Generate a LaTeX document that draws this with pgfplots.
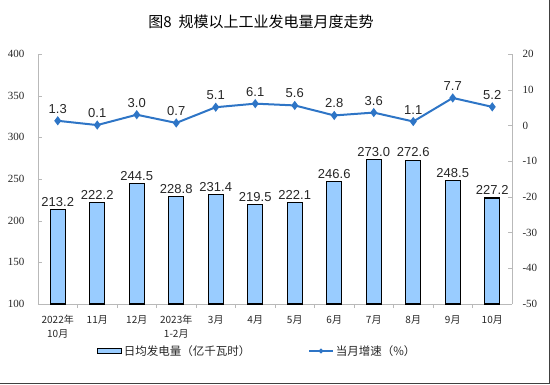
\documentclass[border=0pt]{standalone}
\usepackage{pgfplots}
\pgfplotsset{compat=1.18}
\usepackage{fontspec}
\setmainfont{Liberation Sans}
\newfontfamily\cjk{Noto Sans CJK SC}
\newfontfamily\serif{Liberation Serif}
\definecolor{barblue}{RGB}{153,204,255}
\definecolor{lineblue}{RGB}{46,117,198}
\definecolor{axgray}{RGB}{185,185,185}
\pgfplotsset{/pgf/number format/assume math mode=true}
\begin{document}
\begin{tikzpicture}[x=1pt,y=1pt]
\path[use as bounding box] (0,0) rectangle (550,384);
\draw[line width=1.2pt, black!75] (0,0.6)--(549.4,0.6)--(549.4,384);
\node[font=\cjk\fontsize{15}{18}\selectfont] at (261,362) {图8\ \ 规模以上工业发电量月度走势};

\begin{axis}[
  at={(38pt,80pt)}, anchor=south west, scale only axis,
  width=474pt, height=250pt,
  xmin=-0.5, xmax=11.5, ymin=100, ymax=400,
  ytick={100,150,...,400},
  axis x line*=bottom, axis y line*=left,
  axis line style={axgray,-},
  tick align=inside, major tick length=4pt, minor tick length=4pt,
  tick style={axgray},
  xtick={0,...,11},
  minor x tick num=1,
  major x tick style={draw=none},
  xticklabels={{2022年\\10月},11月,12月,{2023年\\1-2月},3月,4月,5月,6月,7月,8月,9月,10月},
  xticklabel style={align=center, font=\cjk\fontsize{10}{14}\selectfont, text=black!85, yshift=-4pt},
  yticklabel style={font=\serif\fontsize{11}{13}\selectfont, text=black!85, xshift=-10pt},
  ybar, bar width=15pt,
  nodes near coords={\pgfmathprintnumber[fixed,fixed zerofill,precision=1]{\pgfplotspointmeta}},
  every node near coord/.append style={font=\fontsize{13}{15}\selectfont, text=black!85, inner sep=2.5pt},
]
\addplot[fill=barblue, draw=black, line width=1.2pt] coordinates {
(0,213.2) (1,222.2) (2,244.5) (3,228.8) (4,231.4) (5,219.5)
(6,222.1) (7,246.6) (8,273.0) (9,272.6) (10,248.5) (11,227.2)};
\end{axis}

\begin{axis}[
  at={(38pt,80pt)}, anchor=south west, scale only axis,
  width=474pt, height=250pt,
  xmin=-0.5, xmax=11.5, ymin=-50, ymax=20,
  ytick={-50,-40,...,20},
  axis y line*=right, axis x line=none,
  axis line style={axgray,-},
  tick align=inside, major tick length=4pt,
  tick style={axgray},
  yticklabel style={font=\serif\fontsize{11}{13}\selectfont, text=black!85, xshift=7pt},
  legend style={at={(0.462,-0.188)}, anchor=center, draw=none, fill=none,
    legend columns=2, font=\cjk\fontsize{11.5}{13}\selectfont, text=black!85,
    /tikz/every even column/.append style={column sep=56pt}},
]
\addlegendimage{legend image code/.code={\draw[fill=barblue, draw=black, line width=1.2pt] (0pt,-2.7pt) rectangle (24pt,2.7pt);}}
\addlegendentry{日均发电量（亿千瓦时）}
\addplot[lineblue, line width=2pt, mark=diamond*, mark size=3pt,
  nodes near coords={\pgfmathprintnumber[fixed,fixed zerofill,precision=1]{\pgfplotspointmeta}},
  every node near coord/.append style={font=\fontsize{13}{15}\selectfont, text=black!85, yshift=3pt},
  legend image code/.code={\draw[lineblue, line width=1.5pt] (0pt,0pt)--(24pt,0pt); \fill[lineblue] (12pt,0pt) circle (1.2pt);}
] coordinates {
(0,1.3) (1,0.1) (2,3.0) (3,0.7) (4,5.1) (5,6.1)
(6,5.6) (7,2.8) (8,3.6) (9,1.1) (10,7.7) (11,5.2)};
\addlegendentry{当月增速（\%）}
\end{axis}
\end{tikzpicture}
\end{document}
